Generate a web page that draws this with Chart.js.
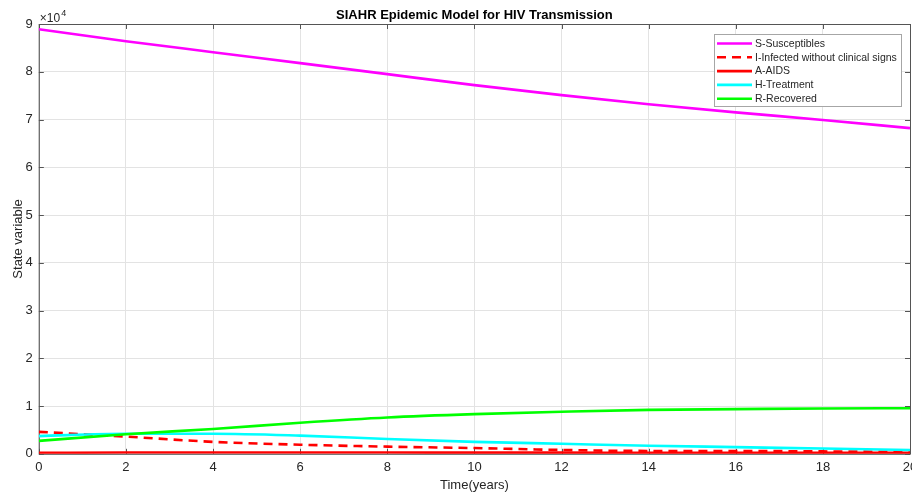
<!DOCTYPE html>
<html><head><meta charset="utf-8">
<script src="https://cdn.jsdelivr.net/npm/chart.js@4.4.1/dist/chart.umd.min.js"></script>
<style>
html,body{margin:0;padding:0;background:#fff;overflow:hidden}
#wrap{width:912px;height:492px;overflow:hidden;position:relative}
canvas{display:block}
</style></head><body>
<div id="wrap"><canvas id="c" width="930" height="492"></canvas></div>
<script>
// SIAHR model state variables, sampled every 2 years
const years = [0, 2, 4, 6, 8, 10, 12, 14, 16, 18, 20];
const susceptible = [88900, 86400, 84100, 81800, 79500, 77200, 75100, 73200, 71500, 69900, 68200];
const infected = [4600, 3600, 2500, 1900, 1500, 1200, 800, 600, 600, 500, 400];
const aids = [200, 260, 280, 270, 260, 250, 240, 230, 220, 210, 200];
const treatment = [3700, 4200, 4200, 3800, 3100, 2500, 2100, 1700, 1400, 1100, 800];
const recovered = [2700, 4100, 5200, 6500, 7600, 8300, 8800, 9200, 9350, 9500, 9550];
const seriesLabels = ['S-Susceptibles', 'I-Infected without clinical signs', 'A-AIDS', 'H-Treatment', 'R-Recovered'];
const seriesColors = ['#ff00ff', '#ff0000', '#ff0000', '#00ffff', '#00ff00'];
const chartTitle = 'SIAHR Epidemic Model for HIV Transmission';
const yMax = 90000;
const yStep = 10000;

const FONT = "'Liberation Sans', Arial, Helvetica, sans-serif";
const TEXT = '#262626';
const AXIS = '#555555';
const GRID = '#e3e3e3';

function pts(vals) { return vals.map((v, i) => ({ x: years[i], y: v })); }

const seriesValues = [susceptible, infected, aids, treatment, recovered];
const datasets = seriesValues.map((vals, i) => ({
  label: seriesLabels[i],
  data: pts(vals),
  borderColor: seriesColors[i],
  backgroundColor: seriesColors[i],
  borderWidth: 2.6,
  borderDash: i === 1 ? [9, 6] : [],
  pointRadius: 0,
  cubicInterpolationMode: 'monotone',
  fill: false,
  order: 4 - i
}));

// box around the axes with inward tick marks on all four sides
const axesBox = {
  id: 'axesBox',
  beforeDatasetsDraw(chart) {
    const { ctx, chartArea: a, scales } = chart;
    ctx.save();
    ctx.strokeStyle = AXIS;
    ctx.lineWidth = 1;
    ctx.beginPath();
    ctx.rect(a.left + 0.5, a.top + 0.5, a.right - a.left, a.bottom - a.top);
    const L = 5;
    scales.x.ticks.forEach(t => {
      const x = Math.round(scales.x.getPixelForValue(t.value)) + 0.5;
      ctx.moveTo(x, a.bottom); ctx.lineTo(x, a.bottom - L);
      ctx.moveTo(x, a.top); ctx.lineTo(x, a.top + L);
    });
    scales.y.ticks.forEach(t => {
      const y = Math.round(scales.y.getPixelForValue(t.value)) + 0.5;
      ctx.moveTo(a.left, y); ctx.lineTo(a.left + L, y);
      ctx.moveTo(a.right, y); ctx.lineTo(a.right - L, y);
    });
    ctx.stroke();
    ctx.restore();
  }
};

// title centred over the axes, exponent marker, and the boxed legend
const annotations = {
  id: 'annotations',
  afterDraw(chart) {
    const { ctx, chartArea: a } = chart;
    ctx.save();
    ctx.fillStyle = '#000';
    ctx.textAlign = 'center';
    ctx.textBaseline = 'middle';
    ctx.font = 'bold 13px ' + FONT;
    ctx.fillText(chartTitle, (a.left + a.right) / 2, 15);

    ctx.fillStyle = TEXT;
    ctx.textBaseline = 'alphabetic';
    ctx.textAlign = 'left';
    ctx.font = '12px ' + FONT;
    ctx.fillText('\u00d710', a.left + 1, a.top - 2);
    const w = ctx.measureText('\u00d710').width;
    ctx.font = '9px ' + FONT;
    ctx.fillText('4', a.left + 2 + w, a.top - 8);

    // legend
    const bx = 714, by = 34, bw = 187, bh = 72;
    ctx.fillStyle = '#ffffff';
    ctx.fillRect(bx, by, bw, bh);
    ctx.strokeStyle = '#a6a6a6';
    ctx.lineWidth = 1;
    ctx.strokeRect(bx + 0.5, by + 0.5, bw, bh);
    ctx.font = '10.5px ' + FONT;
    ctx.textBaseline = 'middle';
    chart.data.datasets.forEach((ds, i) => {
      const y = by + 9.5 + i * 13.8;
      ctx.strokeStyle = ds.borderColor;
      ctx.lineWidth = 2.6;
      ctx.setLineDash(ds.borderDash && ds.borderDash.length ? [9, 6] : []);
      ctx.beginPath();
      ctx.moveTo(717, y); ctx.lineTo(752, y);
      ctx.stroke();
      ctx.setLineDash([]);
      ctx.fillStyle = TEXT;
      ctx.fillText(ds.label, 755, y + 0.5);
    });
    ctx.restore();
  }
};

new Chart(document.getElementById('c'), {
  type: 'line',
  data: { datasets },
  plugins: [axesBox, annotations],
  options: {
    responsive: false,
    animation: false,
    devicePixelRatio: 1,
    layout: { padding: { top: 24, right: 20, bottom: -1, left: 11 } },
    plugins: {
      legend: { display: false },
      tooltip: { enabled: false },
      title: { display: false }
    },
    scales: {
      x: {
        type: 'linear', min: 0, max: 20,
        ticks: { stepSize: 2, color: TEXT, font: { family: FONT, size: 13 }, padding: 6, maxRotation: 0 },
        grid: { color: GRID, drawTicks: false },
        border: { display: false },
        title: { display: true, text: 'Time(years)', color: TEXT, font: { family: FONT, size: 13 }, padding: { top: -4, bottom: 0 } }
      },
      y: {
        type: 'linear', min: 0, max: yMax,
        ticks: { stepSize: yStep, color: TEXT, font: { family: FONT, size: 13 }, padding: 6,
                 callback: v => String(v / 10000) },
        grid: { color: GRID, drawTicks: false },
        border: { display: false },
        title: { display: true, text: 'State variable', color: TEXT, font: { family: FONT, size: 13 }, padding: { top: 0, bottom: -7 } }
      }
    }
  }
});
</script>
</body></html>
